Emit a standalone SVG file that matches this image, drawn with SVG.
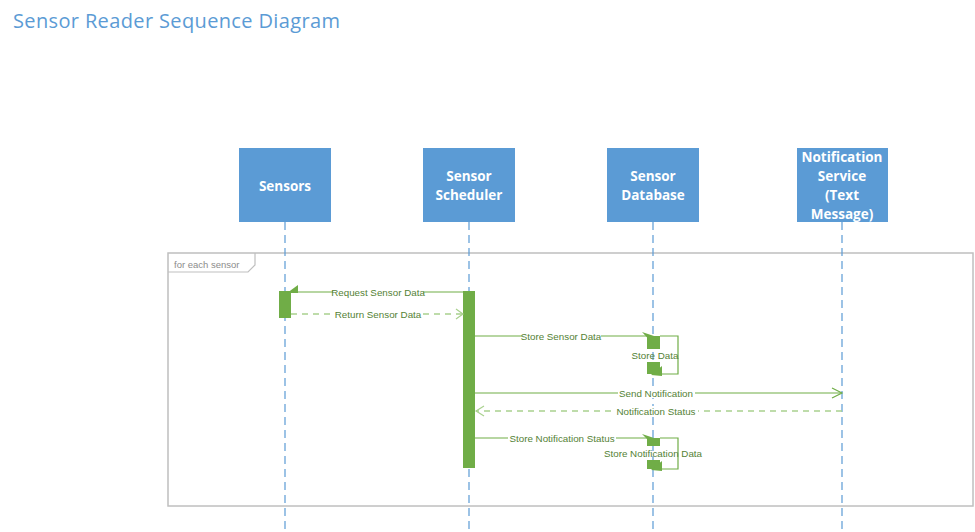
<svg xmlns="http://www.w3.org/2000/svg" width="975" height="532" viewBox="0 0 975 532">
<style>
.box{fill:#5B9BD5}
.bt{font-family:"Open Sans","Liberation Sans",sans-serif;font-weight:bold;font-size:13.5px;fill:#fff;text-anchor:middle}
.life{stroke:#5B9BD5;stroke-width:1.2;stroke-dasharray:8,5;fill:none}
.act{fill:#70AD47}
.msg{stroke:#70AD47;stroke-width:1.2;fill:none}
.ret{stroke:#A9D18E;stroke-width:1.5;stroke-dasharray:6,5;fill:none}
.ml{font-family:"Liberation Sans",Arial,sans-serif;font-size:9.8px;fill:#548235;text-anchor:middle}
.lb{fill:#fff}
</style>
<rect width="975" height="532" fill="#fff"/>
<text x="13" y="28" font-family="'Open Sans','Liberation Sans',sans-serif" font-size="20" fill="#5B9BD5" textLength="327">Sensor Reader Sequence Diagram</text>

<g id="frame">
<rect x="168" y="253" width="805" height="253" fill="none" stroke="#BFBFBF" stroke-width="1.5"/>
<path d="M168,272 H248 L255,265 V253" fill="none" stroke="#BFBFBF" stroke-width="1.2"/>
<text x="174" y="268" font-family="'Liberation Sans',Arial,sans-serif" font-size="9.5" fill="#8C8C8C">for each sensor</text>
</g>

<g id="lifelines">
<line class="life" x1="285" y1="222" x2="285" y2="532"/>
<line class="life" x1="469" y1="222" x2="469" y2="532"/>
<line class="life" x1="653" y1="222" x2="653" y2="532"/>
<line class="life" x1="842" y1="222" x2="842" y2="532"/>
</g>

<g id="sensors">
<rect class="box" x="239" y="148" width="92" height="74"/>
<text class="bt" x="285" y="191">Sensors</text>
</g>
<g id="scheduler">
<rect class="box" x="423" y="148" width="92" height="74"/>
<text class="bt" x="469" y="181">Sensor</text>
<text class="bt" x="469" y="200">Scheduler</text>
</g>
<g id="database">
<rect class="box" x="607" y="148" width="92" height="74"/>
<text class="bt" x="653" y="181">Sensor</text>
<text class="bt" x="653" y="200">Database</text>
</g>
<g id="notification">
<rect class="box" x="797" y="148" width="91" height="74"/>
<text class="bt" x="842" y="162">Notification</text>
<text class="bt" x="842" y="181">Service</text>
<text class="bt" x="842" y="200">(Text</text>
<text class="bt" x="842" y="219">Message)</text>
</g>

<g id="activations">
<rect class="act" x="279" y="291" width="12" height="27"/>
<rect class="act" x="463" y="291" width="12" height="177"/>
<rect class="act" x="647" y="336" width="13" height="13"/>
<rect class="act" x="647" y="362" width="13" height="12"/>
<rect class="act" x="647" y="438" width="13" height="8"/>
<rect class="act" x="647" y="460" width="13" height="9"/>
</g>

<g id="connectors">
<!-- Request Sensor Data -->
<line class="msg" x1="463" y1="292" x2="291" y2="292"/>
<polygon class="act" points="287,293 298,285 298,293"/>
<rect class="lb" x="333" y="287" width="90" height="10"/>
<text class="ml" x="378" y="295.5">Request Sensor Data</text>
<!-- Return Sensor Data -->
<line class="ret" x1="291" y1="314" x2="462" y2="314"/>
<path d="M456,309 L463,314 L456,319" fill="none" stroke="#A9D18E" stroke-width="1.2"/>
<rect class="lb" x="335" y="309" width="86" height="10"/>
<text class="ml" x="378" y="317.5">Return Sensor Data</text>
<!-- Store Sensor Data -->
<line class="msg" x1="475" y1="336" x2="647" y2="336"/>
<polygon class="act" points="642,332 654,336 654,345"/>
<rect class="lb" x="522" y="331" width="79" height="10"/>
<text class="ml" x="561" y="339.5">Store Sensor Data</text>
<!-- Store Data self loop -->
<path class="msg" d="M660,336 H678 V374 H660"/>
<polygon class="act" points="651,375 662,366 662,376"/>
<text class="ml" x="655" y="358.5">Store Data</text>
<!-- Send Notification -->
<line class="msg" x1="475" y1="393" x2="841" y2="393"/>
<path d="M832,388 L842,393 L832,398" fill="none" stroke="#70AD47" stroke-width="1.2"/>
<rect class="lb" x="618" y="388" width="77" height="10"/>
<text class="ml" x="656" y="396.5">Send Notification</text>
<!-- Notification Status -->
<line class="ret" x1="842" y1="411" x2="476" y2="411"/>
<path d="M484,406 L476,411 L484,416" fill="none" stroke="#A9D18E" stroke-width="1.2"/>
<rect class="lb" x="615" y="406" width="83" height="10"/>
<text class="ml" x="656" y="414.5">Notification Status</text>
<!-- Store Notification Status -->
<line class="msg" x1="475" y1="438" x2="647" y2="438"/>
<polygon class="act" points="642,434 654,438 654,446"/>
<rect class="lb" x="508" y="433" width="108" height="10"/>
<text class="ml" x="562" y="441.5">Store Notification Status</text>
<!-- Store Notification Data self loop -->
<path class="msg" d="M660,438 H678 V469 H660"/>
<polygon class="act" points="651,470 662,461 662,471"/>
<text class="ml" x="653" y="456.5">Store Notification Data</text>
</g>
</svg>
